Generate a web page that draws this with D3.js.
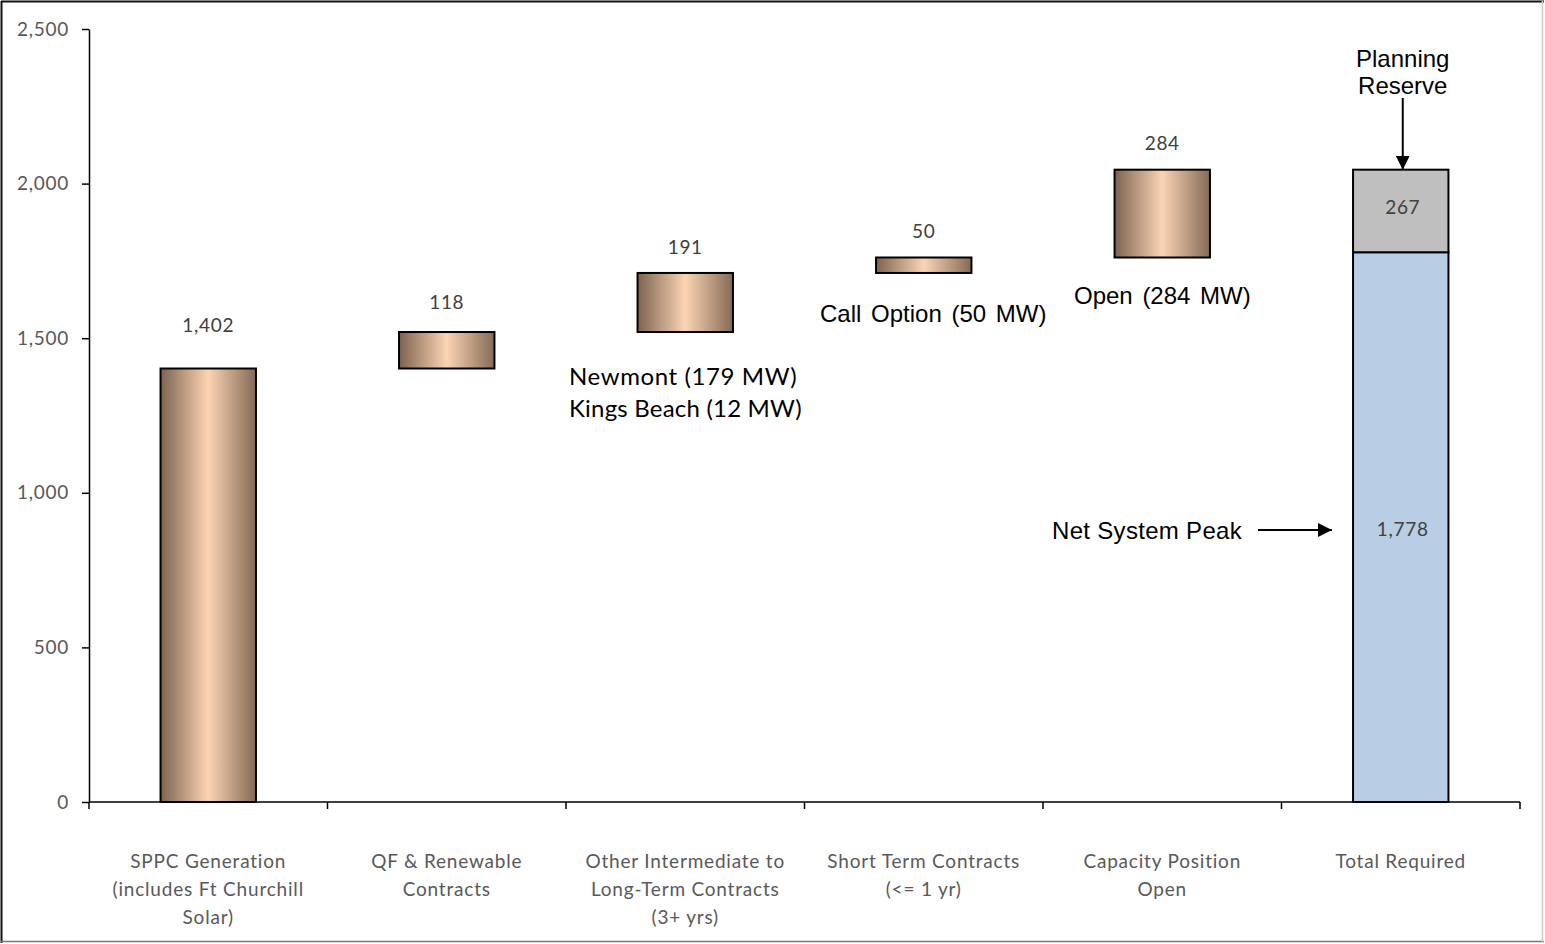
<!DOCTYPE html>
<html><head><meta charset="utf-8">
<script src="https://cdn.jsdelivr.net/npm/d3@7"></script>
<style>html,body{margin:0;padding:0;background:#fff;}svg{display:block;}</style>
</head><body>
<script>
const categories = [
  ["SPPC Generation", "(includes Ft Churchill", "Solar)"],
  ["QF & Renewable", "Contracts"],
  ["Other Intermediate to", "Long-Term Contracts", "(3+ yrs)"],
  ["Short Term Contracts", "(<= 1 yr)"],
  ["Capacity Position", "Open"],
  ["Total Required"]
];
const stepValues = [1402, 118, 191, 50, 284];
const netSystemPeak = 1778;
const planningReserve = 267;
const yTicks = [0, 500, 1000, 1500, 2000, 2500];

const W = 1545, H = 944;
const svg = d3.select("body").append("svg").attr("width", W).attr("height", H);

// frame
svg.append("line").attr("x1",1).attr("x2",W-1).attr("y1",1.5).attr("y2",1.5).attr("stroke","#111").attr("stroke-width",2);
svg.append("line").attr("x1",1.5).attr("x2",1.5).attr("y1",1).attr("y2",H-1).attr("stroke","#111").attr("stroke-width",2);
svg.append("line").attr("x1",1).attr("x2",W-1).attr("y1",H-2.5).attr("y2",H-2.5).attr("stroke","#777").attr("stroke-width",1.5);
svg.append("line").attr("x1",W-2.5).attr("x2",W-2.5).attr("y1",1).attr("y2",H-1).attr("stroke","#ccc").attr("stroke-width",1.5);

const x0 = 89, x1 = 1520, y0 = 802, yTop = 29;
const x = d3.scaleBand().domain(d3.range(categories.length)).range([x0, x1]).paddingInner(0).paddingOuter(0);
const y = d3.scaleLinear().domain([0, 2500]).range([y0, yTop]);
const barW = x.bandwidth() * 0.4;

const defs = svg.append("defs");
const grad = defs.append("linearGradient").attr("id","copper").attr("x1","0%").attr("x2","100%").attr("y1","0%").attr("y2","0%");
grad.append("stop").attr("offset","0%").attr("stop-color","#7d6350");
grad.append("stop").attr("offset","50%").attr("stop-color","#fbd4b4");
grad.append("stop").attr("offset","100%").attr("stop-color","#846a56");

// waterfall data
let cum = 0;
const steps = stepValues.map((v,i) => { const s = {i, v, base: cum, top: cum + v}; cum += v; return s; });

const font = "Lato, 'Open Sans', sans-serif";
const arial = "'Liberation Sans', Arial, sans-serif";

// y axis
const yAxis = d3.axisLeft(y).tickValues(yTicks).tickSize(7).tickFormat(d3.format(",")).tickSizeOuter(0);
const ga = svg.append("g").attr("transform", `translate(${x0},0)`).call(yAxis);
ga.select(".domain").attr("stroke","#000").attr("stroke-width",1.5);
ga.selectAll(".tick line").attr("stroke","#000").attr("stroke-width",1.5);
ga.selectAll(".tick text").attr("font-family", font).attr("font-size", 19).attr("letter-spacing", 0.7)
  .attr("fill","#595959").attr("x",-20);

// bars
svg.append("g").selectAll("rect").data(steps).join("rect")
  .attr("x", d => x(d.i) + (x.bandwidth()-barW)/2)
  .attr("width", barW)
  .attr("y", d => y(d.top))
  .attr("height", d => y(d.base) - y(d.top))
  .attr("fill","url(#copper)").attr("stroke","#000").attr("stroke-width",2);

// value labels
const labelDy = [43, 30, 26, 26, 26];
svg.append("g").selectAll("text").data(steps).join("text")
  .attr("x", d => x(d.i) + x.bandwidth()/2)
  .attr("y", d => y(d.top) - labelDy[d.i])
  .attr("dy","0.35em").attr("text-anchor","middle")
  .attr("font-family", font).attr("font-size", 19).attr("letter-spacing", 0.7).attr("fill","#404040")
  .text(d => d3.format(",")(d.v));

// total stacked bar
const ti = categories.length - 1;
const tx = x(ti) + (x.bandwidth()-barW)/2;
const tc = x(ti) + x.bandwidth()/2;
const total = [{v: netSystemPeak, base: 0, fill: "#b9cde5", dy: 2}, {v: planningReserve, base: netSystemPeak, fill: "#bfbfbf", dy: -4}];
svg.append("g").selectAll("rect").data(total).join("rect")
  .attr("x", tx).attr("width", barW)
  .attr("y", d => y(d.base + d.v)).attr("height", d => y(d.base) - y(d.base + d.v))
  .attr("fill", d => d.fill).attr("stroke","#000").attr("stroke-width",2);
svg.append("g").selectAll("text").data(total).join("text")
  .attr("x", tc + 2).attr("y", d => (y(d.base) + y(d.base + d.v))/2 + d.dy)
  .attr("dy","0.35em").attr("text-anchor","middle")
  .attr("font-family", font).attr("font-size", 19).attr("letter-spacing", 0.7).attr("fill","#404040")
  .text(d => d3.format(",")(d.v));

// x axis
svg.append("line").attr("x1", x0).attr("x2", x1).attr("y1", y0).attr("y2", y0).attr("stroke","#000").attr("stroke-width",1.5);
const bounds = d3.range(categories.length + 1).map(i => i < categories.length ? x(i) : x1);
svg.append("g").selectAll("line").data(bounds).join("line")
  .attr("x1", d => d).attr("x2", d => d).attr("y1", y0).attr("y2", y0 + 7)
  .attr("stroke","#000").attr("stroke-width",1.5);

// category labels
const cg = svg.append("g").selectAll("text").data(categories).join("text")
  .attr("text-anchor","middle").attr("font-family", font).attr("font-size", 19).attr("letter-spacing", 0.8).attr("fill","#595959");
cg.each(function(lines, i){
  const t = d3.select(this);
  lines.forEach((l, k) => t.append("tspan").attr("x", x(i) + x.bandwidth()/2).attr("y", 868 + k*28).text(l));
});

// annotations
function ann(txt, xx, yy, f, size, anchor, ls, ws){
  svg.append("text").attr("x", xx).attr("y", yy).attr("dy","0.35em").attr("text-anchor", anchor || "middle")
    .attr("font-family", f).attr("font-size", size).attr("fill","#000")
    .attr("letter-spacing", ls || 0).attr("word-spacing", ws || 0).text(txt);
}
ann("Newmont (179 MW)", 569, 377, font, 24, "start", 0.6);
ann("Kings Beach (12 MW)", 569, 409, font, 24, "start", 0.2);
ann("Call Option (50 MW)", 820, 314, arial, 24, "start", 0, 3);
ann("Open (284 MW)", 1074, 296, arial, 24, "start", 0, 3);
ann("Net System Peak", 1242, 531, arial, 24, "end", 0.3);
ann("Planning", tc + 2, 59, arial, 24);
ann("Reserve", tc + 2, 86, arial, 24);

defs.append("marker").attr("id","arr").attr("viewBox","0 0 10 10").attr("refX",10).attr("refY",5)
  .attr("markerWidth",14).attr("markerHeight",14).attr("markerUnits","userSpaceOnUse").attr("orient","auto")
  .append("path").attr("d","M0,0L10,5L0,10Z").attr("fill","#000");

svg.append("line").attr("x1",1258).attr("x2",1332).attr("y1",530).attr("y2",530)
  .attr("stroke","#000").attr("stroke-width",2).attr("marker-end","url(#arr)");
svg.append("line").attr("x1",tc+2).attr("x2",tc+2).attr("y1",98).attr("y2",y(netSystemPeak + planningReserve))
  .attr("stroke","#000").attr("stroke-width",2).attr("marker-end","url(#arr)");
</script>
</body></html>
